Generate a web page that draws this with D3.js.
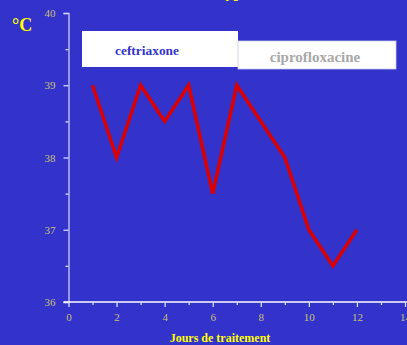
<!DOCTYPE html>
<html><head><meta charset="utf-8">
<script src="https://cdn.jsdelivr.net/npm/d3@7"></script>
<style>html,body{margin:0;padding:0;background:#3333cc;}svg{display:block;}</style>
</head><body>
<script>
const days = [1, 2, 3, 4, 5, 6, 7, 8, 9, 10, 11, 12];
const temps = [39, 38, 39, 38.5, 39, 37.5, 39, 38.5, 38, 37, 36.5, 37];
const xTicks = [0, 2, 4, 6, 8, 10, 12, 14];
const yTicks = [36, 37, 38, 39, 40];
const legendLabels = ["ceftriaxone", "ciprofloxacine"];
const titleText = "Fièvre typhoïde";

const W = 407, H = 345;
const svg = d3.select("body").append("svg").attr("width", W).attr("height", H);
svg.append("rect").attr("width", W).attr("height", H).attr("fill", "#3333cc");

const x = d3.scaleLinear().domain([0, 14]).range([68.5, 405]);
const y = d3.scaleLinear().domain([36, 40]).range([302, 13]);
const serif = "'Liberation Serif', 'Times New Roman', serif";

// title (mostly cut off at top)
svg.append("text").attr("x", 173).attr("y", -3).attr("fill", "#ffff00")
  .attr("font-family", serif).attr("font-weight", "bold").attr("font-size", 16).text(titleText);

// Y axis
const yAxis = d3.axisLeft(y).tickValues(d3.range(36, 40.01, 0.5)).tickSize(5)
  .tickFormat(d => yTicks.includes(d) ? d : "");
const gy = svg.append("g").attr("transform", `translate(${x(0)},0)`).call(yAxis);
gy.select(".domain").attr("stroke", "#b8b8f0").attr("stroke-width", 1.5);
gy.selectAll(".tick line").attr("stroke", "#d8d8ff").attr("stroke-width", 1.3)
  .attr("x2", d => yTicks.includes(d) ? -5 : -3);
gy.selectAll(".tick text").attr("fill", "#c8c070").attr("font-family", serif)
  .attr("font-size", 11).attr("x", -13);

// X axis
const xAxis = d3.axisBottom(x).tickValues(d3.range(0, 14.01, 1)).tickSize(5)
  .tickFormat(d => xTicks.includes(d) ? d : "");
const gx = svg.append("g").attr("transform", `translate(0,${y(36)})`).call(xAxis);
gx.select(".domain").attr("stroke", "#ffffff").attr("stroke-width", 1.3)
  .attr("d", `M${x(0) - 5},0H${W}`);
gx.selectAll(".tick line").attr("stroke", "#d8d8ff").attr("stroke-width", 1.3)
  .attr("y2", d => xTicks.includes(d) ? 5 : 3);
gx.selectAll(".tick text").attr("fill", "#c8c070").attr("font-family", serif)
  .attr("font-size", 11).attr("y", 11);

// axis titles
svg.append("text").attr("x", 220).attr("y", 342).attr("text-anchor", "middle")
  .attr("fill", "#ffff00").attr("font-family", serif).attr("font-weight", "bold")
  .attr("font-size", 12).text("Jours de traitement");
svg.append("text").attr("x", 12).attr("y", 31).attr("fill", "#ffff00")
  .attr("font-family", serif).attr("font-weight", "bold").attr("font-size", 18).text("°C");

// legend boxes
svg.append("rect").attr("x", 82).attr("y", 31).attr("width", 156).attr("height", 36).attr("fill", "#ffffff");
svg.append("rect").attr("x", 238).attr("y", 41).attr("width", 158).attr("height", 28).attr("fill", "#ffffff")
  .attr("stroke", "#c8c8f0").attr("stroke-width", 0.8);
svg.append("text").attr("x", 147).attr("y", 55).attr("text-anchor", "middle").attr("fill", "#3333cc")
  .attr("font-family", serif).attr("font-weight", "bold").attr("font-size", 13.4).text(legendLabels[0]);
svg.append("text").attr("x", 315).attr("y", 62).attr("text-anchor", "middle").attr("fill", "#a8a8a8")
  .attr("font-family", serif).attr("font-weight", "bold").attr("font-size", 15).text(legendLabels[1]);

// line
const line = d3.line().x((d, i) => x(days[i])).y(d => y(d));
svg.append("path").datum(temps).attr("d", line).attr("fill", "none")
  .attr("stroke", "#dd0000").attr("stroke-width", 3.5).attr("stroke-linejoin", "miter");
</script>
</body></html>
